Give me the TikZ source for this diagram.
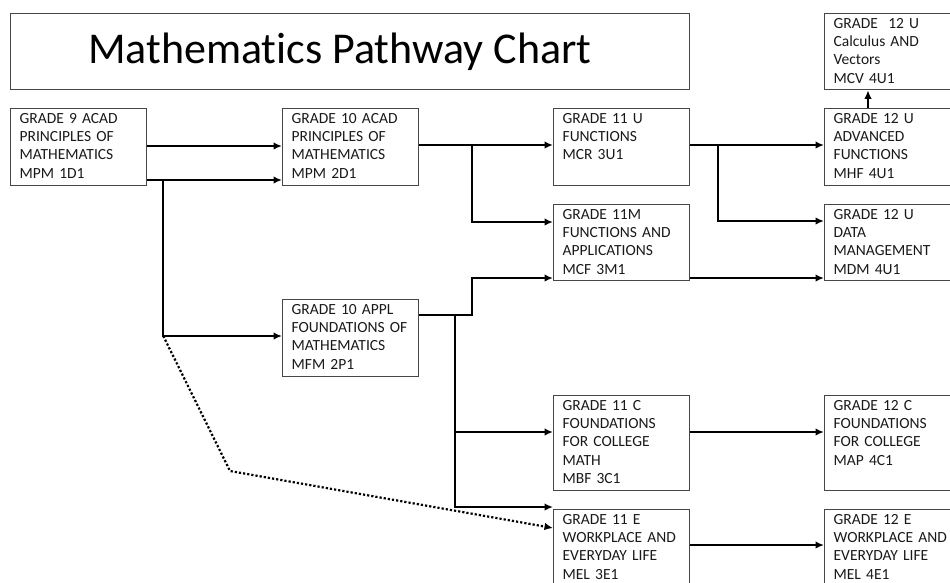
\documentclass[tikz,border=0pt]{standalone}
\usepackage{fontspec}
\setmainfont{Carlito}[Ligatures=CommonOff]
\usepackage{tikz}
\usetikzlibrary{positioning,arrows.meta}
\definecolor{boxgray}{RGB}{70,70,70}
\tikzset{
  crs_box/.style = {draw=boxgray, line width=1.3pt, rectangle, anchor=north west,
    align=left, text width=118pt, inner xsep=9pt, inner ysep=0pt,
    font=\fontsize{15.5}{18.4}\selectfont, text=black!90,
    text height=14.5pt, text depth=#1},% cours, hauteur libre
  crs_box/.default = 62.5pt,
  title_box/.style = {draw=boxgray, line width=1.4pt, rectangle, anchor=north west,
    minimum width=679pt, minimum height=76pt, inner sep=0pt,
    font=\fontsize{44}{50}\selectfont},
  path_ln/.style = {line width=2.2pt, black},
  opt_ln/.style = {line width=2.2pt, black, dotted}
}

\begin{document}
\begin{tikzpicture}[x=1pt, y=-1pt, >={Latex[length=8.5pt,width=7.5pt]}]
\useasboundingbox (0,0) rectangle (950,582);
\clip (0,0) rectangle (950,582);
%
\node (T) [title_box] at (10,13) {\hspace*{-21pt}Mathematics Pathway Chart};
%
\node (G9)   [crs_box] at (10,108)  {GRADE 9 ACAD\\PRINCIPLES OF\\MATHEMATICS\\MPM 1D1};
\node (G10A) [crs_box] at (282,108) {GRADE 10 ACAD\\PRINCIPLES OF\\MATHEMATICS\\MPM 2D1};
\node (G10P) [crs_box] at (282,299) {GRADE 10 APPL\\FOUNDATIONS OF\\MATHEMATICS\\MFM 2P1};
%
\node (G11U) [crs_box] at (553,108) {GRADE 11 U\\FUNCTIONS\\MCR 3U1};
\node (G11M) [crs_box=61.5pt] at (553,204) {GRADE 11M\\FUNCTIONS AND\\APPLICATIONS\\MCF 3M1};
\node (G11C) [crs_box=80.5pt] at (553,395) {GRADE 11 C\\FOUNDATIONS\\FOR COLLEGE\\MATH\\MBF 3C1};
\node (G11E) [crs_box=80.5pt] at (553,509) {GRADE 11 E\\WORKPLACE AND\\EVERYDAY LIFE\\MEL 3E1};
%
\node (G12V) [crs_box=61.5pt] at (824,13)  {GRADE~~12 U\\Calculus AND\\Vectors\\MCV 4U1};
\node (G12F) [crs_box] at (824,108) {GRADE 12 U\\ADVANCED\\FUNCTIONS\\MHF 4U1};
\node (G12D) [crs_box=61.5pt] at (824,204) {GRADE 12 U\\DATA\\MANAGEMENT\\MDM 4U1};
\node (G12C) [crs_box=80.5pt] at (824,395) {GRADE 12 C\\FOUNDATIONS\\FOR COLLEGE\\MAP 4C1};
\node (G12E) [crs_box=80.5pt] at (824,509) {GRADE 12 E\\WORKPLACE AND\\EVERYDAY LIFE\\MEL 4E1};
%
% grade 9 -> grade 10
\draw[->, path_ln] ([yshift=-38pt]G9.north east) -- ([yshift=-38pt]G10A.north west);
\draw[->, path_ln] ([yshift=-72pt]G9.north east) -- ([yshift=-72pt]G10A.north west);
\coordinate (J9) at ([xshift=16pt,yshift=-72pt]G9.north east);
\coordinate (A10P) at ([yshift=-37pt]G10P.north west);
\draw[->, path_ln] (J9) |- (A10P);
\coordinate (K9) at (J9 |- A10P);
\coordinate (D9) at (230,471);
\draw[->, opt_ln] (K9) -- (D9) -- ([yshift=-19pt]G11E.north west);
%
% grade 10 -> grade 11
\draw[->, path_ln] ([yshift=-37pt]G10A.north east) -- ([yshift=-37pt]G11U.north west);
\coordinate (J10A) at ([xshift=53pt,yshift=-37pt]G10A.north east);
\draw[->, path_ln] (J10A) |- ([yshift=-18pt]G11M.north west);
\draw[->, path_ln] ([yshift=-16pt]G10P.north east) -- ++(53,0) |- ([yshift=-74pt]G11M.north west);
\coordinate (J10P) at ([xshift=36pt,yshift=-16pt]G10P.north east);
\draw[->, path_ln] (J10P) |- ([yshift=-37pt]G11C.north west);
\draw[->, path_ln] (J10P) |- ([yshift=2pt]G11E.north west);
%
% grade 11 -> grade 12
\draw[->, path_ln] ([yshift=-37pt]G11U.north east) -- ([yshift=-37pt]G12F.north west);
\coordinate (J11U) at ([xshift=28pt,yshift=-37pt]G11U.north east);
\draw[->, path_ln] (J11U) |- ([yshift=-17pt]G12D.north west);
\draw[->, path_ln] ([yshift=-74pt]G11M.north east) -- ([yshift=-74pt]G12D.north west);
\draw[->, path_ln] ([yshift=-37pt]G11C.north east) -- ([yshift=-37pt]G12C.north west);
\draw[->, path_ln] ([yshift=-36pt]G11E.north east) -- ([yshift=-36pt]G12E.north west);
%
\draw[->, path_ln] ([xshift=44pt]G12F.north west) -- ([xshift=44pt]G12V.south west);
\end{tikzpicture}
\end{document}
